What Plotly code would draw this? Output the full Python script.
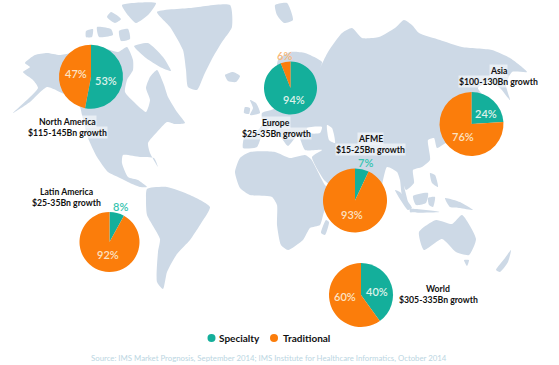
import plotly.graph_objects as go

# ---- chart data ----
regions = ["North America", "Europe", "AFME", "Asia", "Latin America", "World"]
growth = ["$115-145Bn growth", "$25-35Bn growth", "$15-25Bn growth",
          "$100-130Bn growth", "$25-35Bn growth", "$305-335Bn growth"]
specialty = [53, 94, 7, 24, 8, 40]
traditional = [47, 6, 93, 76, 92, 60]
segments = ["Specialty", "Traditional"]
source = "Source: IMS Market Prognosis, September 2014; IMS Institute for Healthcare Informatics, October 2014"

# ---- layout of the picture (pixels) ----
W, H = 559, 365
TEAL, ORANGE, LAND = "#14AF9B", "#FB7D0B", "#CDD9E6"
pie_cx = [91, 290.5, 355, 471.5, 109.5, 361]
pie_cy = [76.7, 88, 200.5, 124, 242, 295]
pie_r = [32, 26.5, 32, 32, 30, 32]
spec_lab = [(106, 80, "#DDF2EA"), (294, 99, "#DDF2EA"), (365, 162, "#35C4B0"),
            (486, 113, "#DDF2EA"), (120, 206, "#35C4B0"), (377, 291, "#DDF2EA")]
trad_lab = [(76, 73, "#FBE3C4"), (284, 55, "#F9B878"), (352, 214, "#FBE3C4"),
            (463, 136, "#FBE3C4"), (108, 254, "#FBE3C4"), (345, 296, "#FBE3C4")]
title_xy = [(67, 121), (276, 122), (370, 138), (498, 70), (66, 191), (438, 288)]

# ---- base map outlines ----
land = [
    # North and Central America
    [(25,63),(35,55),(47,53),(60,55),(85,50),(100,47),(118,52),(127,47),(133,60),(133,70),(127,80),(125,92),(135,103),
     (146,112),(150,100),(146,88),(150,77),(157,70),(164,85),(168,97),(177,112),(185,123),(175,124),(167,122),(157,132),
     (148,143),(150,153),(158,167),(154,158),(140,157),(123,155),(122,163),(128,177),(138,180),(147,187),(140,187),(130,183),
     (120,178),(108,172),(97,157),(88,138),(82,115),(80,107),(72,98),(62,93),(47,87),(30,102),(13,113),(38,88),(33,80),(23,72),(30,67)],
    # Arctic islands
    [(134,46),(148,43),(163,57),(171,71),(160,67),(146,58)],
    [(122,5),(156,3),(149,14),(136,23),(127,14)],
    [(111,12),(121,19),(115,23),(107,17)],
    [(97,27),(111,29),(113,35),(99,37)],
    [(86,31),(93,29),(92,37),(86,37)],
    [(119,31),(128,29),(130,39),(121,41)],
    # Greenland
    [(157,12),(190,8),(230,5),(232,27),(222,42),(213,57),(204,75),(197,90),(188,87),(186,70),(183,50),(170,27)],
    # Iceland, Britain, Svalbard
    [(225,75),(233,72),(240,76),(236,82),(228,81)],
    [(250,100),(256,103),(260,113),(250,115),(253,108)],
    [(245,107),(250,108),(249,114),(244,113)],
    [(275,5),(287,3),(293,20),(284,23),(277,15)],
    # Eurasia
    [(243,148),(245,135),(255,133),(262,125),(262,113),(275,108),(278,60),(290,52),(305,53),(322,62),(319,70),(328,52),
     (342,33),(352,28),(362,38),(379,37),(395,28),(404,20),(412,25),(419,33),(440,40),(462,47),(492,50),(510,58),(527,72),
     (512,72),(506,85),(510,100),(500,88),(490,82),(478,88),(490,105),(470,130),(450,140),(437,148),(434,138),(428,140),(430,160),
     (422,167),(413,170),(414,183),(406,190),(404,186),(408,203),(402,195),(400,180),(397,172),(387,167),(378,200),(366,172),
     (352,170),(340,190),(325,181),(312,157),(322,150),(305,150),(298,135),(288,146),(280,136),(270,128),(262,135),(257,147)],
    # Africa
    [(235,172),(240,158),(250,152),(275,152),(290,158),(305,155),(311,159),(325,185),(335,195),(346,197),(325,210),(320,225),
     (310,228),(303,240),(288,250),(281,245),(277,225),(277,205),(272,197),(250,195),(240,188)],
    # Madagascar
    [(326,220),(329,222),(325,235),(321,233)],
    # South America
    [(147,189),(167,187),(190,195),(210,207),(200,225),(190,240),(177,254),(167,272),(163,289),(157,282),(158,252),(160,239),(147,215),(146,200)],
    # Australia, Tasmania, New Zealand
    [(419,232),(436,220),(452,224),(462,215),(476,239),(469,255),(456,252),(442,239),(424,250)],
    [(464,260),(469,260),(467,266)],
    [(496,270),(505,258),(511,250),(508,262),(500,272)],
    # South East Asia
    [(395,190),(400,192),(412,208),(408,210)],
    [(413,196),(428,193),(426,203),(416,205)],
    [(410,209),(440,212),(410,212)],
    [(430,173),(435,175),(438,187),(432,183)],
    [(428,198),(435,197),(433,207),(429,205)],
    [(445,198),(460,202),(473,210),(460,208),(450,207)],
    # Japan
    [(439,130),(446,120),(450,125),(441,138)],
]
water = [
    [(327,125),(332,128),(335,143),(329,140)],   # Caspian Sea
    [(307,128),(322,127),(320,133),(308,133)],   # Black Sea
]

fig = go.Figure()

def outline(points, colour):
    xs = [p[0] for p in points] + [points[0][0]]
    ys = [p[1] for p in points] + [points[0][1]]
    fig.add_trace(go.Scatter(x=xs, y=ys, mode="lines", fill="toself", fillcolor=colour,
                             line=dict(width=0, color=colour, shape="spline", smoothing=0.55),
                             hoverinfo="skip", showlegend=False))

for shape in land:
    outline(shape, LAND)
for shape in water:
    outline(shape, "white")

for i, region in enumerate(regions):
    cx, cy, r = pie_cx[i], pie_cy[i], pie_r[i]
    fig.add_trace(go.Pie(
        labels=segments, values=[specialty[i], traditional[i]], name=region,
        sort=False, direction="clockwise", rotation=0, textinfo="none", showlegend=False,
        marker=dict(colors=[TEAL, ORANGE], line=dict(width=0)),
        domain=dict(x=[(cx - r) / W, (cx + r) / W], y=[1 - (cy + r) / H, 1 - (cy - r) / H]),
    ))

# legend
fig.add_trace(go.Scatter(x=[211.5, 274], y=[338, 338], mode="markers",
                         marker=dict(size=8, color=[TEAL, ORANGE]), hoverinfo="skip", showlegend=False))

notes = []
def note(x, y, text, size, colour, anchor="center", weight=400, halo=False, family="Lato"):
    notes.append(dict(x=x, y=y, xref="x", yref="y", text=text, showarrow=False, xanchor=anchor, yanchor="middle",
                      font=dict(family=family, size=size, color=colour, weight=weight),
                      bgcolor="rgba(255,255,255,0.55)" if halo else None, borderpad=0))

for i in range(len(regions)):
    note(title_xy[i][0], title_xy[i][1], regions[i], 8.7, "#111111", halo=True, weight=700)
    note(title_xy[i][0], title_xy[i][1] + 11.5, growth[i], 8.7, "#111111", halo=True, weight=700)
    sx, sy, sc = spec_lab[i]
    tx, ty, tc = trad_lab[i]
    note(sx, sy, f"{specialty[i]}%", 11, sc, weight=600)
    note(tx, ty, f"{traditional[i]}%", 11, tc, weight=600)

note(218, 338, segments[0], 10, "#111111", anchor="left", weight=700)
note(282, 338, segments[1], 10, "#111111", anchor="left", weight=700)
note(269, 358, source, 7.8, "#BBD6E2")

fig.update_layout(
    width=W, height=H, margin=dict(l=0, r=0, t=0, b=0), autosize=False,
    paper_bgcolor="white", plot_bgcolor="white", showlegend=False, annotations=notes,
    xaxis=dict(range=[0, W], visible=False, fixedrange=True),
    yaxis=dict(range=[H, 0], visible=False, fixedrange=True),
)
fig.write_html("out.html", config={"displayModeBar": False},
               post_script="document.body.style.margin='0';")
